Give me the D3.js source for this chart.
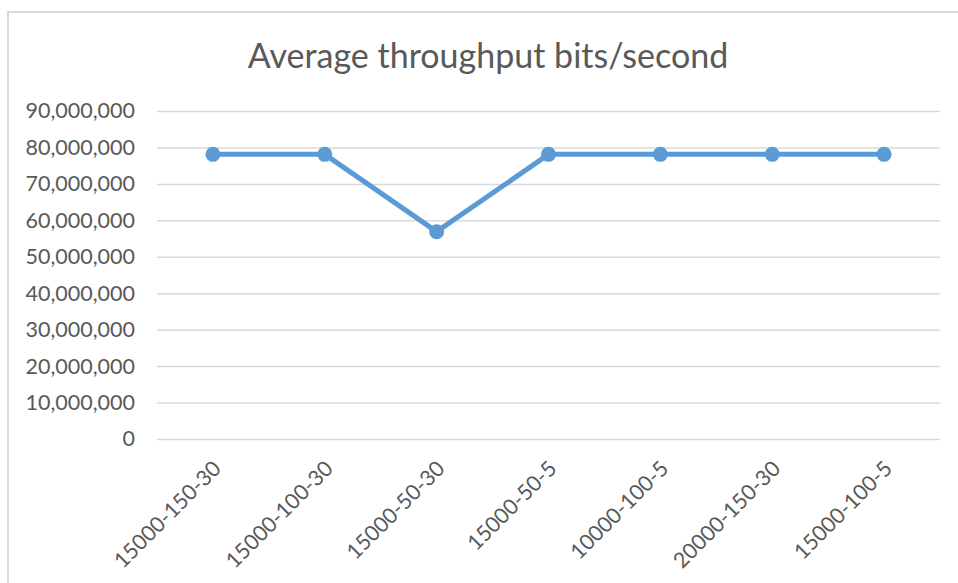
<!DOCTYPE html>
<html>
<head>
<meta charset="utf-8">
<script src="https://cdn.jsdelivr.net/npm/d3@7"></script>
<style>
  body { margin: 0; background: #fff; }
  text { font-family: Lato, "Open Sans", sans-serif; fill: #595959; }
</style>
</head>
<body>
<div id="chart"></div>
<script>
var categories = ["15000-150-30", "15000-100-30", "15000-50-30", "15000-50-5", "10000-100-5", "20000-150-30", "15000-100-5"];
var throughput = [78100000, 78100000, 56900000, 78100000, 78100000, 78100000, 78100000];
var yTicks = [0, 10000000, 20000000, 30000000, 40000000, 50000000, 60000000, 70000000, 80000000, 90000000];

var width = 958, height = 583;
var margin = { top: 111, left: 157, right: 18, bottom: 144 };

var svg = d3.select("#chart").append("svg")
  .attr("width", width)
  .attr("height", height);

// chart frame
svg.append("rect")
  .attr("x", 8).attr("y", 12)
  .attr("width", 980).attr("height", 600)
  .attr("fill", "none")
  .attr("stroke", "#d9d9d9")
  .attr("stroke-width", 2);

var x = d3.scalePoint()
  .domain(categories)
  .range([margin.left, width - margin.right])
  .padding(0.5);

var y = d3.scaleLinear()
  .domain([0, 90000000])
  .range([height - margin.bottom, margin.top]);

// title
svg.append("text")
  .attr("x", 488).attr("y", 68)
  .attr("text-anchor", "middle")
  .style("font-size", "34px")
  .text("Average throughput bits/second");

// y axis with gridlines
var yAxis = svg.append("g")
  .attr("transform", "translate(" + margin.left + ",0)")
  .call(d3.axisLeft(y)
    .tickValues(yTicks)
    .tickSize(-(width - margin.left - margin.right))
    .tickPadding(22)
    .tickFormat(d3.format(",")));
yAxis.select(".domain").remove();
yAxis.selectAll(".tick line")
  .attr("stroke", "#d9d9d9")
  .attr("stroke-width", 1.5);
yAxis.selectAll(".tick text")
  .style("font-size", "21.5px")
  .attr("fill", "#595959");

// x axis labels
var xAxis = svg.append("g")
  .attr("transform", "translate(0," + (height - margin.bottom) + ")")
  .call(d3.axisBottom(x).tickSize(0).tickPadding(0));
xAxis.select(".domain").remove();
xAxis.selectAll(".tick text")
  .style("font-size", "21.5px")
  .attr("fill", "#595959")
  .attr("text-anchor", "end")
  .attr("dy", 0)
  .attr("transform", "translate(9,31) rotate(-45)");

// line
var line = d3.line()
  .x(function(d, i) { return x(categories[i]); })
  .y(function(d) { return y(d); });

svg.append("path")
  .datum(throughput)
  .attr("fill", "none")
  .attr("stroke", "#5b9bd5")
  .attr("stroke-width", 5)
  .attr("stroke-linejoin", "round")
  .attr("d", line);

svg.selectAll(".dot")
  .data(throughput)
  .enter()
  .append("circle")
  .attr("class", "dot")
  .attr("cx", function(d, i) { return x(categories[i]); })
  .attr("cy", function(d) { return y(d); })
  .attr("r", 7.5)
  .attr("fill", "#5b9bd5");
</script>
</body>
</html>
